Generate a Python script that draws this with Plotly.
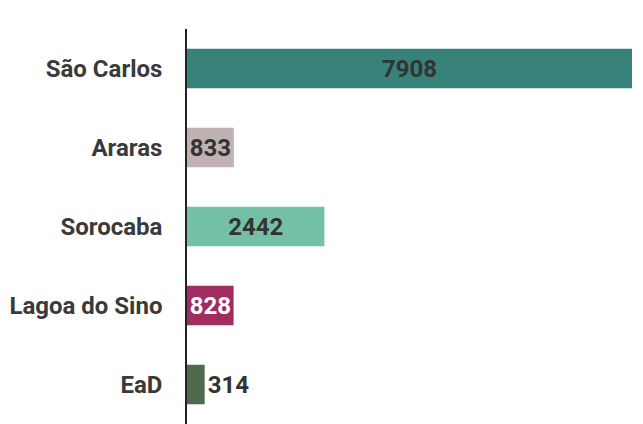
import plotly.graph_objects as go

categories = ["São Carlos", "Araras", "Sorocaba", "Lagoa do Sino", "EaD"]
values = [7908, 833, 2442, 828, 314]
bar_colors = ["#37837a", "#c0b2b2", "#74c0a7", "#a12c62", "#4e6b50"]
text_colors = ["#333333", "#333333", "#333333", "#ffffff", "#333333"]
text_positions = ["inside", "inside", "inside", "inside", "outside"]

fig = go.Figure(go.Bar(
    y=categories,
    x=values,
    orientation="h",
    marker=dict(color=bar_colors, line=dict(width=0)),
    text=[str(v) for v in values],
    textposition=text_positions,
    insidetextanchor="middle",
    constraintext="none",
    textangle=0,
    textfont=dict(family="Roboto", size=24, color=text_colors, weight="bold"),
    outsidetextfont=dict(family="Roboto", size=24, color="#333333", weight="bold"),
    cliponaxis=False,
))

fig.update_layout(
    width=635, height=416,
    margin=dict(l=179, r=11, t=21, b=0, autoexpand=False),
    paper_bgcolor="white", plot_bgcolor="white",
    bargap=0.5,
    showlegend=False,
    xaxis=dict(range=[0, 7908], visible=False, showgrid=False, zeroline=False),
    yaxis=dict(
        autorange="reversed", automargin=False,
        showgrid=False, zeroline=False,
        showline=True, linecolor="#222222", linewidth=1.5,
        ticks="", ticklabelstandoff=18,
        tickfont=dict(family="Roboto", size=24, color="#3a3a3a", weight="bold"),
    ),
)

fig.write_html("out.html")
